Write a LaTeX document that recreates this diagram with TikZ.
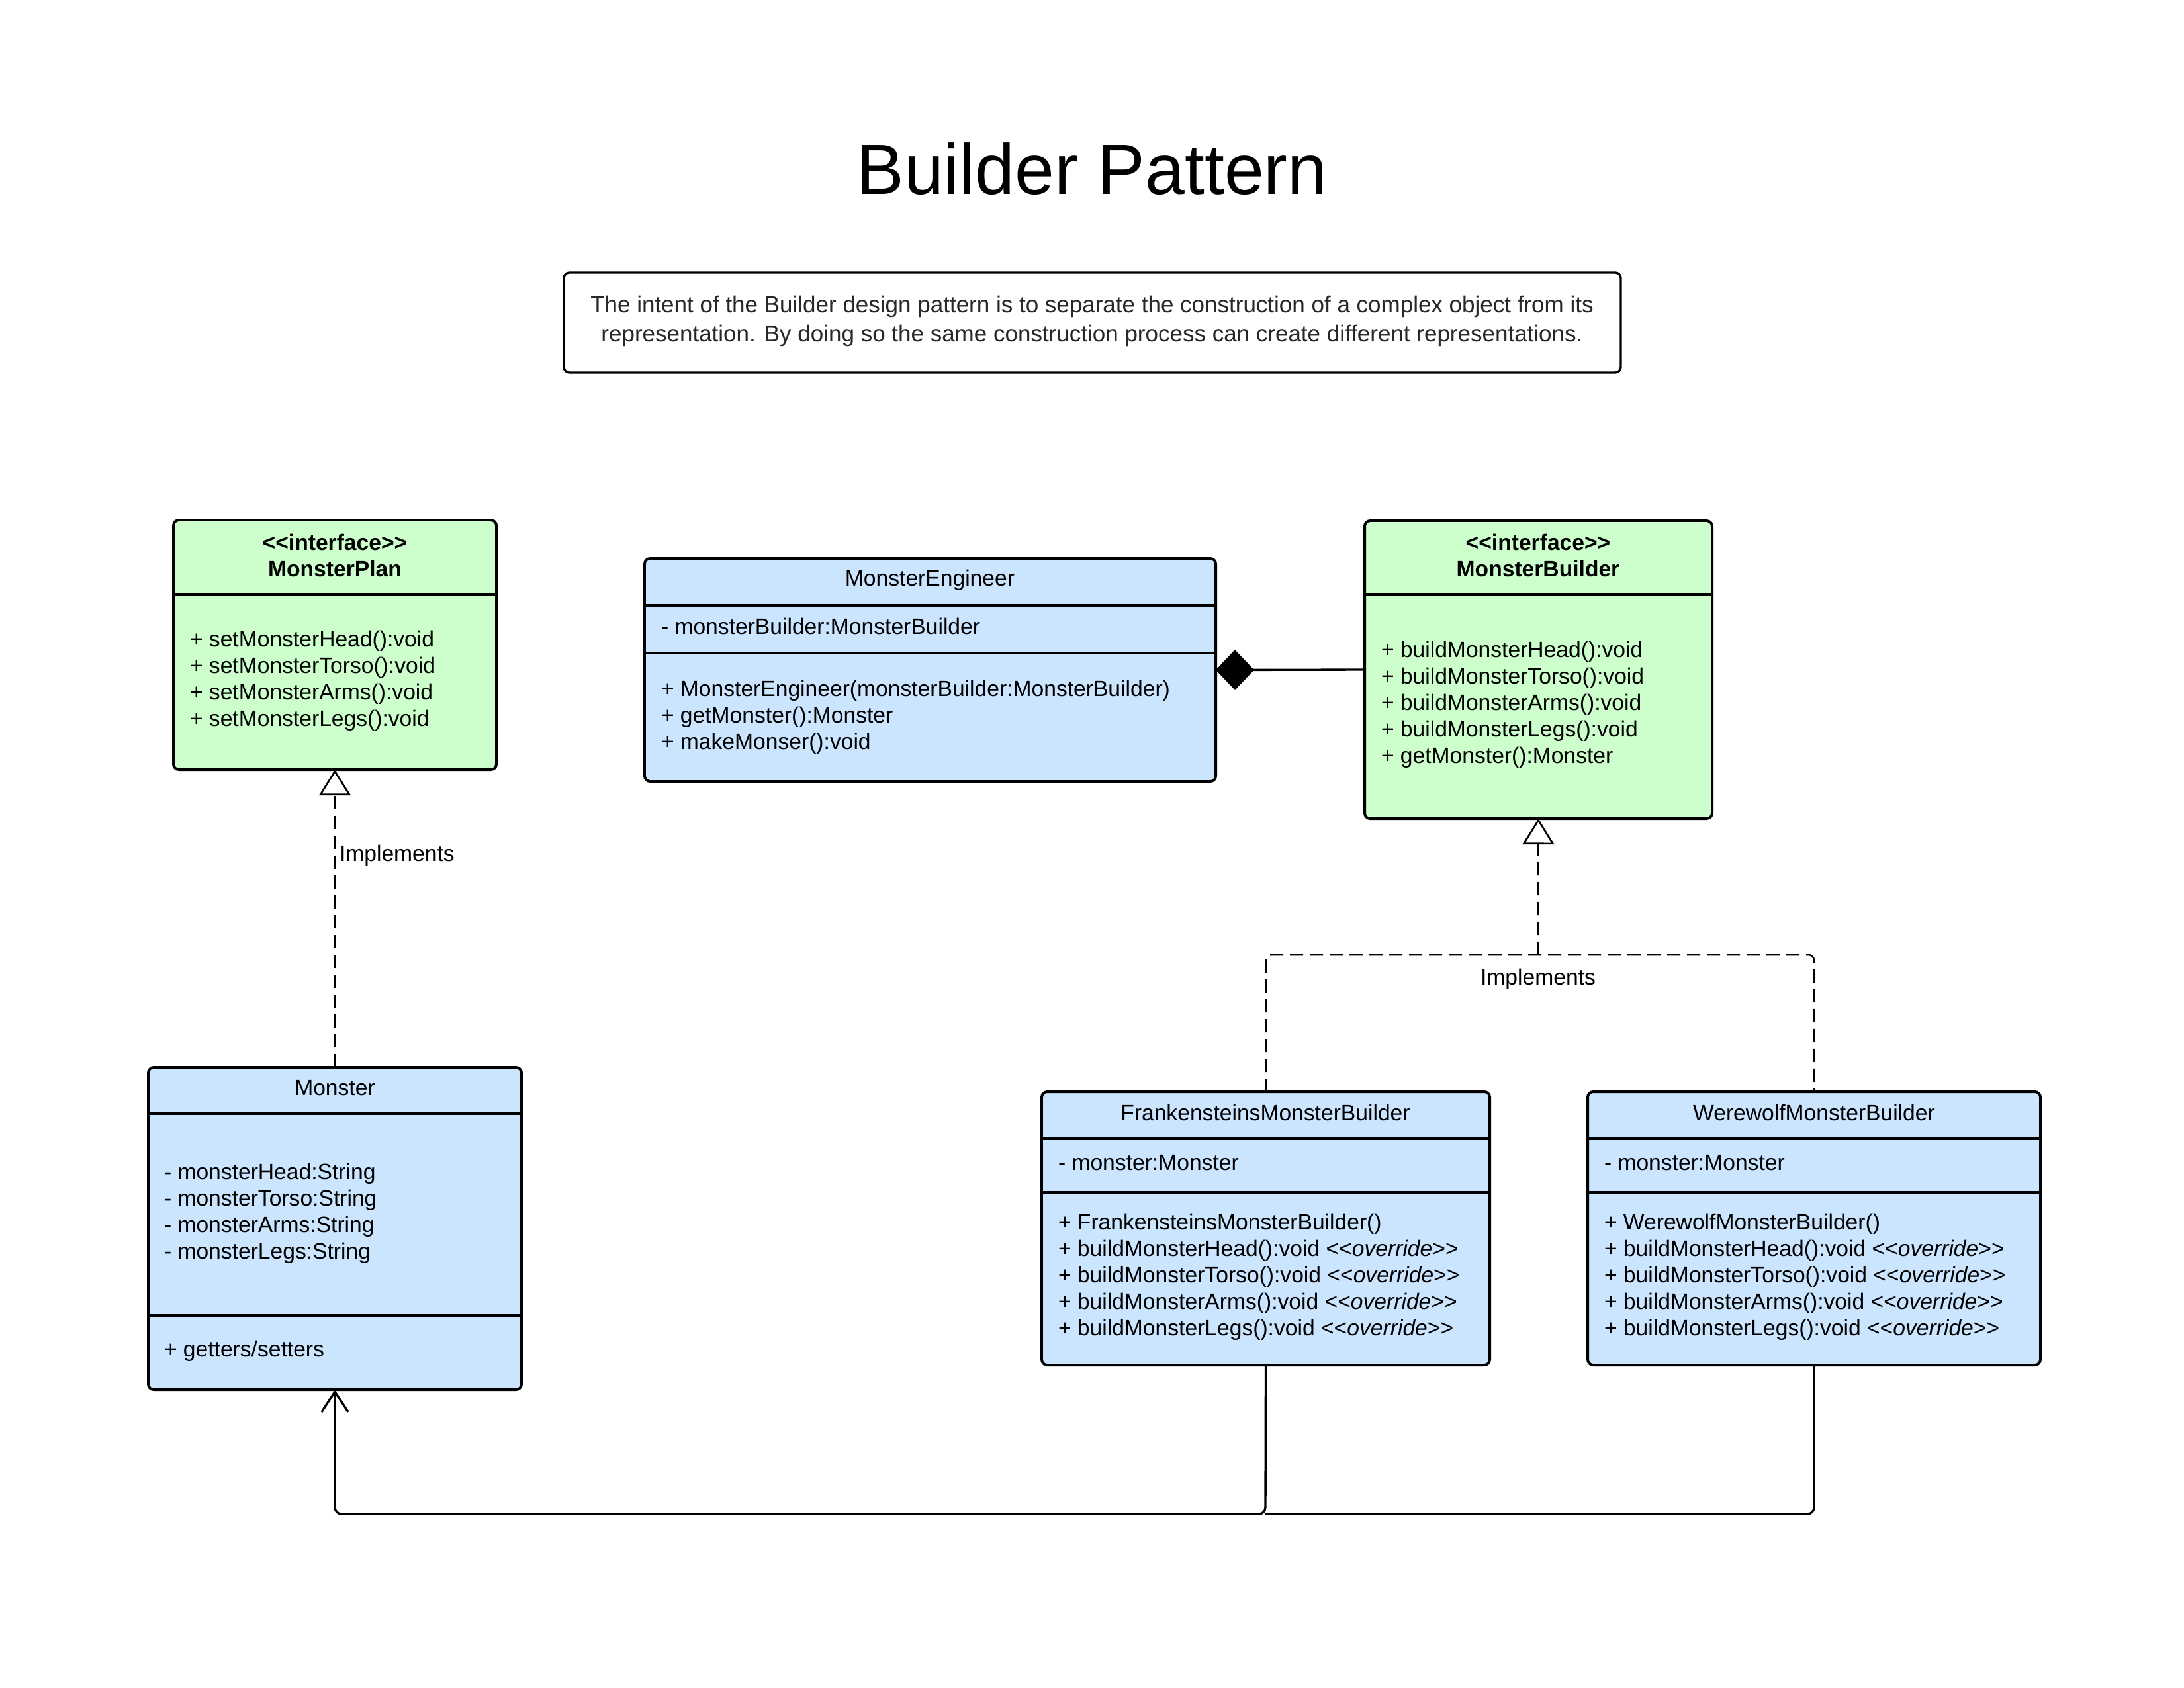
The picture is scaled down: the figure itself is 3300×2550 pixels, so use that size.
\documentclass[tikz,border=0pt]{standalone}
\usepackage{fontspec}
\setmainfont{Liberation Sans}
\usetikzlibrary{arrows.meta,fit}
\definecolor{cgreen}{RGB}{204,255,204}
\definecolor{cblue}{RGB}{204,229,255}
\definecolor{desctext}{RGB}{40,40,40}
\newcommand\ltlt{{<}{<}}
\newcommand\gtgt{{>}{>}}
\newcommand\umllines[4]{%
  \foreach \t [count=\i] in {#4} {\node[txt, anchor=base west] (#1\i) at (#2,{#3+40*(\i-1)}) {\t};}}
\begin{document}
\begin{tikzpicture}[x=0.24pt,y=-0.24pt,
  txt/.style={inner sep=0pt, outer sep=0pt, font=\fontsize{8.07}{9.6}\selectfont},
  ttl/.style={txt, anchor=base},
  bttl/.style={txt, anchor=base, font=\fontsize{8.07}{9.6}\selectfont\bfseries},
  dtxt/.style={txt, anchor=base, text=desctext, font=\fontsize{8.4}{10}\selectfont},
  classbox/.style={draw=black, line width=0.95pt, rounded corners=2pt, inner sep=0pt, outer sep=0pt},
  divider/.style={draw=black, line width=0.95pt},
  solidline/.style={draw=black, line width=0.8pt},
  dashline/.style={draw=black, line width=0.6pt, dash pattern=on 4.8pt off 2.4pt},
  realtip/.style={-{Triangle[open, length=9.4pt, width=11.5pt, line width=0.65pt]}},
  comptip/.style={-{Diamond[length=13.9pt, width=14.6pt]}},
  assoctip/.style={-{Straight Barb[length=7.4pt, width=9.6pt, line width=0.8pt]}}
]
\fill[white] (0,0) rectangle (3300,2550);
\useasboundingbox (0,0) rectangle (3300,2550);

% Title
\node[txt, anchor=base, font=\fontsize{25.8}{30}\selectfont] (title) at (1650,293) {Builder Pattern};

% Description
\node[classbox, line width=0.8pt, fill=white, fit={(852,412) (2449,563)}] (desc) {};
\node[dtxt] (desc1) at (1650,472) {The intent of the Builder design pattern is to separate the construction of a complex object from its};
\node[dtxt] (desc2) at (1650,516) {representation. By doing so the same construction process can create different representations.};

% MonsterPlan
\node[classbox, fill=cgreen, fit={(262,786) (750,1163)}] (mp) {};
\draw[divider] (262,898) -- (750,898);
\node[bttl] (mpt1) at (506,831) {\ltlt interface\gtgt};
\node[bttl] (mpt2) at (506,871) {MonsterPlan};
\umllines{mpm}{287}{977}{{+ setMonsterHead():void},{+ setMonsterTorso():void},{+ setMonsterArms():void},{+ setMonsterLegs():void}}

% MonsterEngineer
\node[classbox, fill=cblue, fit={(974,844) (1837,1181)}] (me) {};
\draw[divider] (974,915) -- (1837,915);
\draw[divider] (974,987) -- (1837,987);
\node[ttl] (met) at (1405,885) {MonsterEngineer};
\node[txt, anchor=base west] (mea) at (999,958) {- monsterBuilder:MonsterBuilder};
\umllines{mem}{999}{1052}{{+ MonsterEngineer(monsterBuilder:MonsterBuilder)},{+ getMonster():Monster},{+ makeMonser():void}}

% MonsterBuilder
\node[classbox, fill=cgreen, fit={(2062,787) (2587,1237)}] (mb) {};
\draw[divider] (2062,898) -- (2587,898);
\node[bttl] (mbt1) at (2324,831) {\ltlt interface\gtgt};
\node[bttl] (mbt2) at (2324,871) {MonsterBuilder};
\umllines{mbm}{2087}{993}{{+ buildMonsterHead():void},{+ buildMonsterTorso():void},{+ buildMonsterArms():void},{+ buildMonsterLegs():void},{+ getMonster():Monster}}

% Monster
\node[classbox, fill=cblue, fit={(224,1613) (788,2100)}] (mon) {};
\draw[divider] (224,1683) -- (788,1683);
\draw[divider] (224,1988) -- (788,1988);
\node[ttl] (mont) at (506,1655) {Monster};
\umllines{mona}{248}{1782}{{- monsterHead:String},{- monsterTorso:String},{- monsterArms:String},{- monsterLegs:String}}
\node[txt, anchor=base west] (monm) at (248,2050) {+ getters/setters};

% FrankensteinsMonsterBuilder
\node[classbox, fill=cblue, fit={(1574,1650) (2251,2063)}] (fr) {};
\draw[divider] (1574,1721) -- (2251,1721);
\draw[divider] (1574,1802) -- (2251,1802);
\node[ttl] (frt) at (1912,1693) {FrankensteinsMonsterBuilder};
\node[txt, anchor=base west] (fra) at (1599,1768) {- monster:Monster};
\umllines{frm}{1599}{1858}{{+ FrankensteinsMonsterBuilder()},{+ buildMonsterHead():void \ltlt\textit{override}\gtgt},{+ buildMonsterTorso():void \ltlt\textit{override}\gtgt},{+ buildMonsterArms():void \ltlt\textit{override}\gtgt},{+ buildMonsterLegs():void \ltlt\textit{override}\gtgt}}

% WerewolfMonsterBuilder
\node[classbox, fill=cblue, fit={(2399,1650) (3083,2063)}] (wb) {};
\draw[divider] (2399,1721) -- (3083,1721);
\draw[divider] (2399,1802) -- (3083,1802);
\node[ttl] (wbt) at (2741,1693) {WerewolfMonsterBuilder};
\node[txt, anchor=base west] (wba) at (2424,1768) {- monster:Monster};
\umllines{wbm}{2424}{1858}{{+ WerewolfMonsterBuilder()},{+ buildMonsterHead():void \ltlt\textit{override}\gtgt},{+ buildMonsterTorso():void \ltlt\textit{override}\gtgt},{+ buildMonsterArms():void \ltlt\textit{override}\gtgt},{+ buildMonsterLegs():void \ltlt\textit{override}\gtgt}}

% Realization: Monster -> MonsterPlan
\draw[dashline, realtip] (mon.north) -- (mp.south);
\node[txt, anchor=base west] (impl1) at (513,1301) {Implements};

% Realization: builders -> MonsterBuilder
\coordinate (j) at (2324,1443);
\draw[dashline, rounded corners=2pt] (fr.north) |- (j) -| (wb.north);
\draw[dashline, realtip] (j) -- (mb.south);
\node[ttl] (impl2) at (2324,1488) {Implements};

% Composition
\draw[solidline, comptip] (mb.west) -- (me.east);

% Associations to Monster
\coordinate (k) at (1912,2288);
\draw[solidline, rounded corners=2.4pt, assoctip] (fr.south) -- (k) -| (mon.south);
\draw[solidline, rounded corners=2.4pt] (wb.south) |- (k);
\end{tikzpicture}
\end{document}
